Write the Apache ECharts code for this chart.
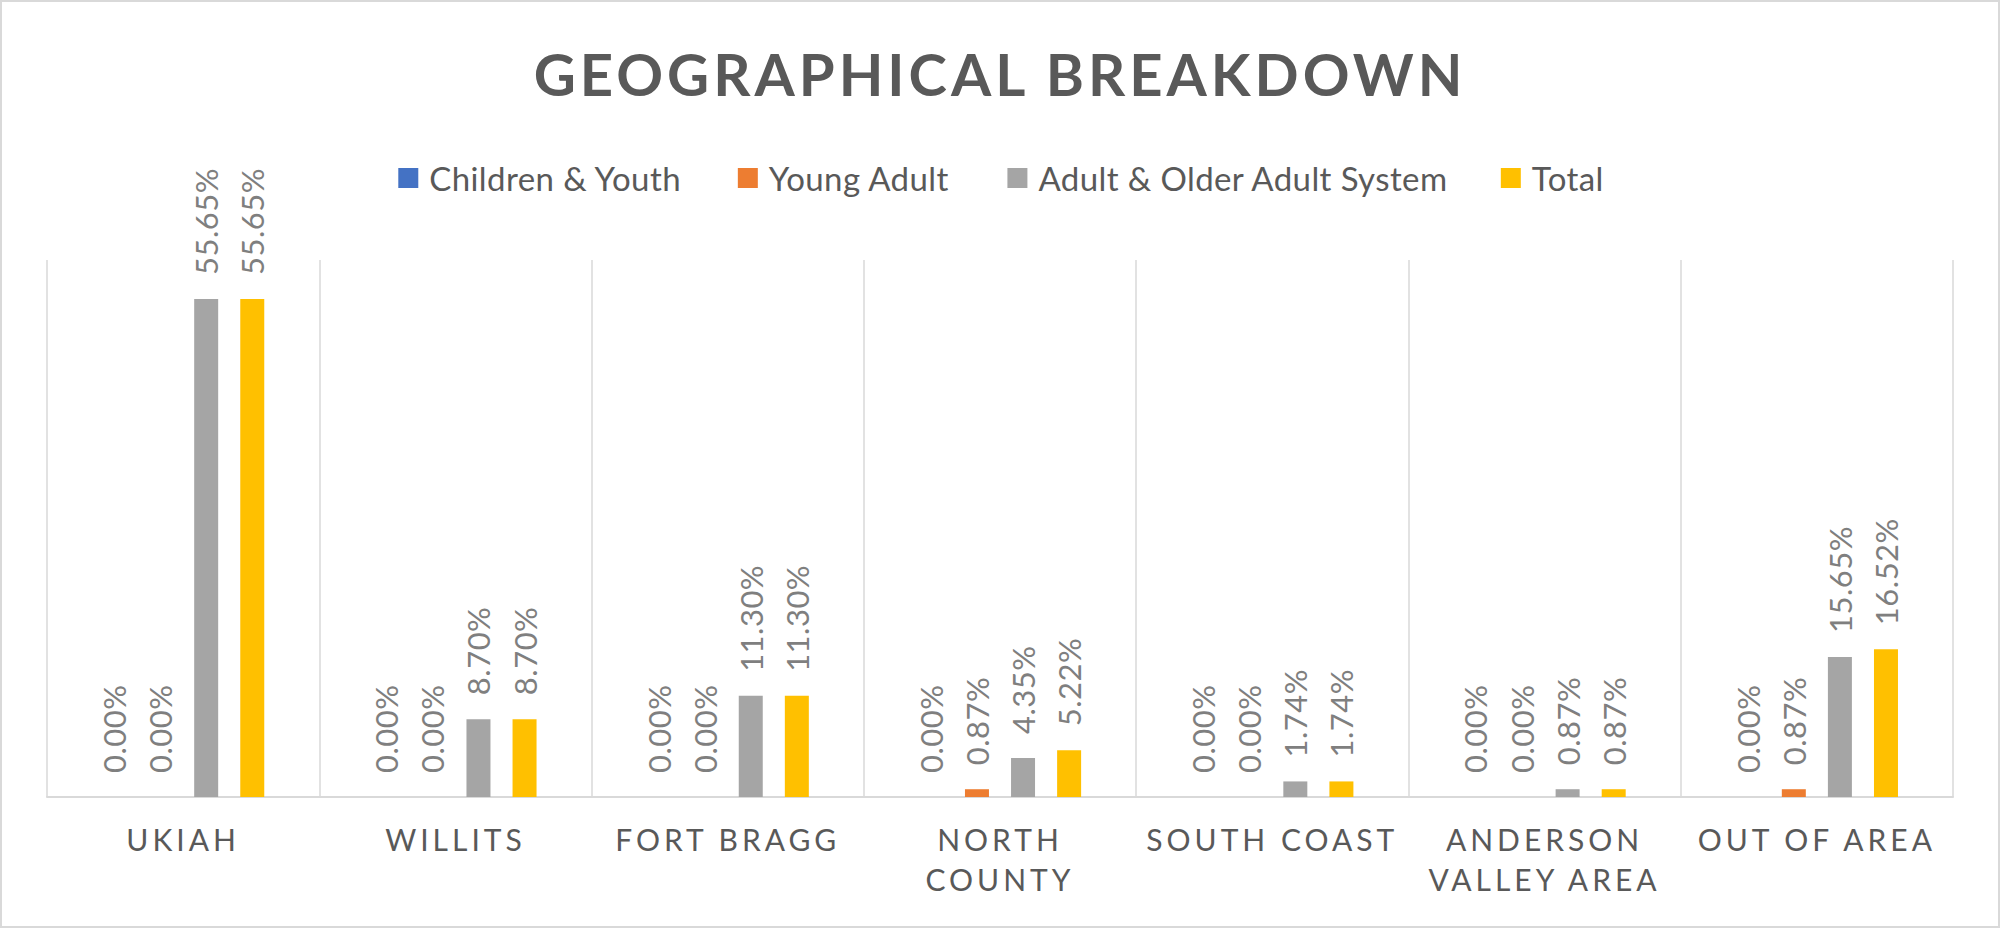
<!DOCTYPE html>
<html>
<head>
<meta charset="utf-8">
<script src="https://cdn.jsdelivr.net/npm/echarts@6/dist/echarts.min.js"></script>
<style>
  html, body { margin: 0; padding: 0; background: #ffffff; }
  #chart { width: 2000px; height: 928px; }
  /* letter spacing per text role (matched by font size) */
  #chart text[style*="58px"] { letter-spacing: 4px; }
  #chart text[style*="30px"] { letter-spacing: 4px; }
  #chart text[style*="31px"] { letter-spacing: 0.5px; }
  #chart text[style*="33px"] { letter-spacing: 0.4px; }
</style>
</head>
<body>
<div id="chart"></div>
<script>
const titleText = 'GEOGRAPHICAL BREAKDOWN';
const categories = ['UKIAH', 'WILLITS', 'FORT BRAGG', 'NORTH\nCOUNTY', 'SOUTH COAST', 'ANDERSON\nVALLEY AREA', 'OUT OF AREA'];
const seriesNames = ['Children & Youth', 'Young Adult', 'Adult & Older Adult System', 'Total'];
const childrenYouth = [0, 0, 0, 0, 0, 0, 0];
const youngAdult = [0, 0, 0, 0.87, 0, 0, 0.87];
const adultOlderAdult = [55.65, 8.70, 11.30, 4.35, 1.74, 0.87, 15.65];
const total = [55.65, 8.70, 11.30, 5.22, 1.74, 0.87, 16.52];
const colors = ['#4472C4', '#ED7D31', '#A5A5A5', '#FFC000'];

const chart = echarts.init(document.getElementById('chart'), null, { renderer: 'svg' });

const labelOpt = {
  show: true,
  position: 'top',
  rotate: 90,
  align: 'left',
  verticalAlign: 'middle',
  distance: 24,
  color: '#7F7F7F',
  fontFamily: 'Lato',
  fontSize: 31,
  formatter: p => p.value.toFixed(2) + '%'
};

const dataSets = [childrenYouth, youngAdult, adultOlderAdult, total];

chart.setOption({
  backgroundColor: '#ffffff',
  animation: false,
  color: colors,
  title: {
    text: titleText,
    left: 'center',
    top: 38,
    padding: 0,
    textStyle: {
      fontFamily: 'Lato',
      fontWeight: 'bold',
      fontSize: 58,
      lineHeight: 70,
      color: '#595959'
    }
  },
  legend: {
    data: seriesNames,
    left: 'center',
    top: 156,
    itemWidth: 20,
    itemHeight: 20,
    itemGap: 62,
    icon: 'rect',
    textStyle: {
      fontFamily: 'Lato',
      fontSize: 33,
      lineHeight: 34,
      color: '#595959',
      padding: [0, 0, 0, 6]
    }
  },
  grid: { left: 47, right: 47, top: 260, bottom: 131, containLabel: false },
  xAxis: {
    type: 'category',
    data: categories,
    boundaryGap: true,
    axisTick: { show: false },
    axisLine: { show: true, lineStyle: { color: '#D9D9D9', width: 2 } },
    splitLine: { show: true, lineStyle: { color: '#D9D9D9', width: 1.5 } },
    axisLabel: {
      interval: 0,
      margin: 22,
      fontFamily: 'Lato',
      fontSize: 30,
      lineHeight: 40,
      color: '#595959'
    }
  },
  yAxis: {
    type: 'value',
    min: 0,
    max: 60,
    show: false,
    splitLine: { show: false }
  },
  graphic: [{
    type: 'rect',
    shape: { x: 1, y: 1, width: 1998, height: 926 },
    style: { fill: 'none', stroke: '#D9D9D9', lineWidth: 2 },
    silent: true,
    z: 100
  }],
  series: seriesNames.map((name, i) => ({
    name: name,
    type: 'bar',
    data: dataSets[i],
    barWidth: 24,
    barGap: '92%',
    label: labelOpt,
    itemStyle: { color: colors[i] }
  }))
});
</script>
</body>
</html>
